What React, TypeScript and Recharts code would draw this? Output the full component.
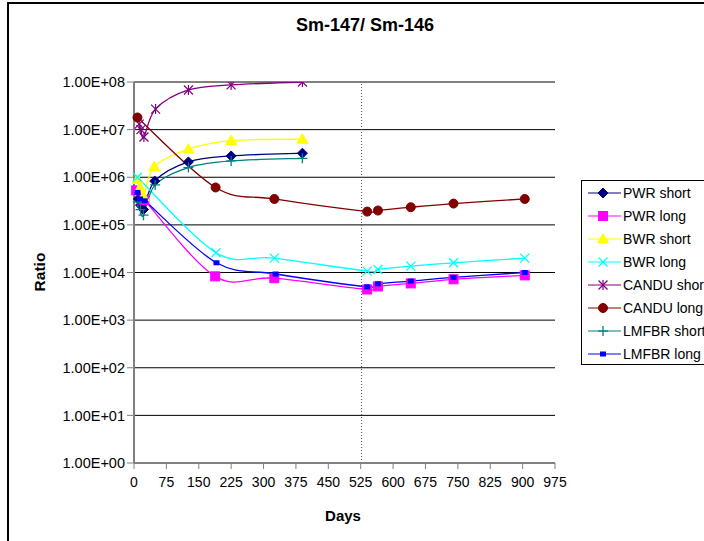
import React from 'react';
import { LineChart, Line, XAxis, YAxis, CartesianGrid, ReferenceLine, Legend } from 'recharts';

// ---- data ----
const pwrShortDays = [10, 15, 22, 48, 126, 225, 390];
const pwrShortVals = [3.5e5, 2.6e5, 2.1e5, 8.3e5, 2.1e6, 2.8e6, 3.2e6];

const pwrLongDays = [5, 24, 188, 325, 540, 565, 641, 740, 905];
const pwrLongVals = [5.3e5, 3.3e5, 8.3e3, 7.6e3, 4.4e3, 5.1e3, 5.9e3, 7.2e3, 8.7e3];

const bwrShortDays = [8, 14, 22, 47, 126, 225, 390];
const bwrShortVals = [9e5, 6e5, 3.9e5, 1.66e6, 3.9e6, 5.9e6, 6.3e6];

const bwrLongDays = [8, 190, 325, 540, 565, 641, 740, 905];
const bwrLongVals = [1e6, 2.6e4, 2.0e4, 1.07e4, 1.16e4, 1.36e4, 1.6e4, 2.0e4];

const canduShortDays = [12, 16, 23, 50, 126, 225, 390];
const canduShortVals = [1.3e7, 1.0e7, 7e6, 2.7e7, 6.8e7, 8.7e7, 1.0e8];

const canduLongDays = [8, 189, 325, 540, 565, 641, 740, 905];
const canduLongVals = [1.8e7, 6.1e5, 3.5e5, 1.9e5, 2.0e5, 2.35e5, 2.8e5, 3.5e5];

const lmfbrShortDays = [9, 15, 22, 49, 126, 225, 390];
const lmfbrShortVals = [3.0e5, 2.1e5, 1.6e5, 6.9e5, 1.6e6, 2.2e6, 2.5e6];

const lmfbrLongDays = [8, 14, 25, 191, 328, 540, 565, 641, 740, 905];
const lmfbrLongVals = [4.8e5, 3.5e5, 3.2e5, 1.6e4, 9.3e3, 5.0e3, 5.8e3, 6.6e3, 7.9e3, 1.0e4];

const xTicks = [0, 75, 150, 225, 300, 375, 450, 525, 600, 675, 750, 825, 900, 975];
const yTicks = [1, 10, 100, 1e3, 1e4, 1e5, 1e6, 1e7, 1e8];
const markerDay = 527;

const zip = (d: number[], v: number[]) => d.map((day, i) => ({ day, v: v[i] }));

type Shape = 'diamond' | 'square' | 'triangle' | 'x' | 'asterisk' | 'circle' | 'plus' | 'smallSquare';

const series: { name: string; color: string; shape: Shape; data: { day: number; v: number }[] }[] = [
  { name: 'PWR short', color: '#000080', shape: 'diamond', data: zip(pwrShortDays, pwrShortVals) },
  { name: 'PWR long', color: '#FF00FF', shape: 'square', data: zip(pwrLongDays, pwrLongVals) },
  { name: 'BWR short', color: '#FFFF00', shape: 'triangle', data: zip(bwrShortDays, bwrShortVals) },
  { name: 'BWR long', color: '#00FFFF', shape: 'x', data: zip(bwrLongDays, bwrLongVals) },
  { name: 'CANDU short', color: '#800080', shape: 'asterisk', data: zip(canduShortDays, canduShortVals) },
  { name: 'CANDU long', color: '#800000', shape: 'circle', data: zip(canduLongDays, canduLongVals) },
  { name: 'LMFBR short', color: '#008080', shape: 'plus', data: zip(lmfbrShortDays, lmfbrShortVals) },
  { name: 'LMFBR long', color: '#0000FF', shape: 'smallSquare', data: zip(lmfbrLongDays, lmfbrLongVals) },
];

// Excel-like smoothing (Catmull-Rom through points)
function smoothCurve(context: any) {
  let pts: number[][] = [];
  return {
    areaStart() {},
    areaEnd() {},
    lineStart() { pts = []; },
    point(x: number, y: number) { pts.push([+x, +y]); },
    lineEnd() {
      const n = pts.length;
      if (!n) return;
      context.moveTo(pts[0][0], pts[0][1]);
      if (n === 1) { context.lineTo(pts[0][0], pts[0][1]); return; }
      for (let i = 0; i < n - 1; i++) {
        const p0 = pts[i - 1] || pts[i];
        const p1 = pts[i];
        const p2 = pts[i + 1];
        const p3 = pts[i + 2] || pts[i + 1];
        context.bezierCurveTo(
          p1[0] + (p2[0] - p0[0]) / 6, p1[1] + (p2[1] - p0[1]) / 6,
          p2[0] - (p3[0] - p1[0]) / 6, p2[1] - (p3[1] - p1[1]) / 6,
          p2[0], p2[1]
        );
      }
    },
  };
}

function Marker({ shape, x, y, color }: { shape: Shape; x: number; y: number; color: string }) {
  switch (shape) {
    case 'diamond':
      return <polygon points={`${x},${y - 5} ${x + 5},${y} ${x},${y + 5} ${x - 5},${y}`} fill={color} stroke={color} />;
    case 'square':
      return <rect x={x - 4.5} y={y - 4.5} width={9} height={9} fill={color} stroke={color} />;
    case 'triangle':
      return <polygon points={`${x},${y - 5.5} ${x + 5.5},${y + 4} ${x - 5.5},${y + 4}`} fill={color} stroke={color} />;
    case 'x':
      return (
        <g stroke={color} strokeWidth={1.3}>
          <line x1={x - 4.5} y1={y - 4.5} x2={x + 4.5} y2={y + 4.5} />
          <line x1={x - 4.5} y1={y + 4.5} x2={x + 4.5} y2={y - 4.5} />
        </g>
      );
    case 'asterisk':
      return (
        <g stroke={color} strokeWidth={1.2}>
          <line x1={x - 4.5} y1={y - 4.5} x2={x + 4.5} y2={y + 4.5} />
          <line x1={x - 4.5} y1={y + 4.5} x2={x + 4.5} y2={y - 4.5} />
          <line x1={x} y1={y - 5} x2={x} y2={y + 5} />
        </g>
      );
    case 'circle':
      return <circle cx={x} cy={y} r={4.5} fill={color} stroke={color} />;
    case 'plus':
      return (
        <g stroke={color} strokeWidth={1.3}>
          <line x1={x - 5} y1={y} x2={x + 5} y2={y} />
          <line x1={x} y1={y - 5} x2={x} y2={y + 5} />
        </g>
      );
    case 'smallSquare':
    default:
      return <rect x={x - 3} y={y - 2.5} width={6} height={5} fill={color} />;
  }
}

const makeDot = (name: string, shape: Shape, color: string) => (p: any) => {
  const { cx, cy, index } = p;
  if (cx == null || cy == null) return <g key={`${name}-${index}`} />;
  return (
    <g key={`${name}-${index}`}>
      <Marker shape={shape} x={cx} y={cy} color={color} />
    </g>
  );
};

const fmtY = (v: number) => {
  const e = Math.round(Math.log10(v));
  return `1.00E+${e < 10 ? '0' + e : e}`;
};

const FONT = '"Liberation Sans", Arial, sans-serif';

const LegendBox = () => (
  <div
    style={{
      border: '1px solid #000',
      borderRight: 'none',
      background: '#fff',
      width: 170,
      height: 185,
      boxSizing: 'border-box',
      paddingTop: 1,
      fontFamily: FONT,
      fontSize: 14,
    }}
  >
    {series.map((s) => (
      <div key={s.name} style={{ height: 22.9, display: 'flex', alignItems: 'center', whiteSpace: 'nowrap' }}>
        <svg width={40} height={14} style={{ flex: 'none' }}>
          <line x1={6} y1={7} x2={39} y2={7} stroke={s.color} strokeWidth={1} />
          <Marker shape={s.shape} x={21} y={7} color={s.color} />
        </svg>
        <span style={{ marginLeft: 1, color: '#000' }}>{s.name}</span>
      </div>
    ))}
  </div>
);

export default function App() {
  return (
    <div style={{ position: 'fixed', left: 0, top: 0, width: 704, height: 541, overflow: 'hidden', background: '#fff' }}>
      <div style={{ position: 'absolute', left: 7, top: 2, width: 900, height: 900, border: '2px solid #000', boxSizing: 'border-box' }} />
      <div
        style={{
          position: 'absolute', left: 0, top: 15, width: 730, textAlign: 'center',
          fontFamily: FONT, fontWeight: 'bold', fontSize: 18, color: '#000',
        }}
      >
        Sm-147/ Sm-146
      </div>
      <div style={{ position: 'absolute', left: 0, top: 0 }}>
        <LineChart width={704} height={541} margin={{ top: 82, right: 149, bottom: 48, left: 0 }}>
          <CartesianGrid vertical={false} stroke="#000" strokeWidth={1} horizontalValues={yTicks} />
          <XAxis
            type="number"
            dataKey="day"
            domain={[0, 975]}
            ticks={xTicks}
            interval={0}
            allowDuplicatedCategory={false}
            height={30}
            stroke="#808080"
            strokeWidth={2}
            tickSize={6}
            tickMargin={8}
            tick={{ fill: '#000', fontSize: 14, fontFamily: FONT }}
            tickLine={{ stroke: '#808080', strokeWidth: 1 }}
            label={(props: any) => (
              <text x={343} y={521} textAnchor="middle" fontFamily={FONT} fontWeight="bold" fontSize={15} fill="#000">
                Days
              </text>
            )}
          />
          <YAxis
            type="number"
            scale="log"
            domain={[1, 1e8]}
            ticks={yTicks}
            interval={0}
            allowDataOverflow
            width={134}
            stroke="#808080"
            strokeWidth={2}
            tickSize={7}
            tickFormatter={fmtY}
            tick={{ fill: '#000', fontSize: 14.5, fontFamily: FONT }}
            tickLine={{ stroke: '#808080', strokeWidth: 1 }}
            label={(props: any) => (
              <text x={45} y={272} transform="rotate(-90 45 272)" textAnchor="middle" fontFamily={FONT} fontWeight="bold" fontSize={15.5} fill="#000">
                Ratio
              </text>
            )}
          />
          <ReferenceLine x={markerDay} stroke="#555" strokeDasharray="1 2" strokeWidth={1} />
          {series.map((s) => (
            <Line
              key={s.name}
              name={s.name}
              data={s.data}
              dataKey="v"
              type={smoothCurve as any}
              stroke={s.color}
              strokeWidth={1.3}
              dot={makeDot(s.name, s.shape, s.color)}
              activeDot={false}
              isAnimationActive={false}
              legendType="line"
            />
          ))}
          <Legend
            layout="vertical"
            align="center"
            verticalAlign="middle"
            content={() => <LegendBox />}
            wrapperStyle={{ left: 581, top: 180, width: 170, height: 185 }}
          />
        </LineChart>
      </div>
    </div>
  );
}
